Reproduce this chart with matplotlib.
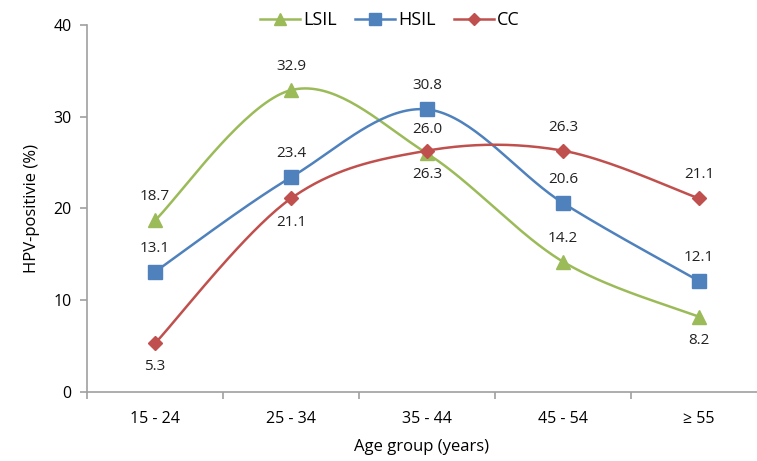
import numpy as np
import matplotlib.pyplot as plt
from matplotlib.ticker import FixedLocator

plt.rcParams['font.family'] = ['Open Sans', 'DejaVu Sans']

age_groups = ["15 - 24", "25 - 34", "35 - 44", "45 - 54", "\u2265 55"]
lsil = [18.7, 32.9, 26.0, 14.2, 8.2]
hsil = [13.1, 23.4, 30.8, 20.6, 12.1]
cc = [5.3, 21.1, 26.3, 26.3, 21.1]

# label above (+1) or below (-1) the point, as in the original
lsil_pos = [1, 1, 1, 1, -1]
hsil_pos = [1, 1, 1, 1, 1]
cc_pos = [-1, -1, -1, 1, 1]


def smooth(xs, ys, n=40):
    # Excel-style smoothed line: Catmull-Rom bezier segments
    pts = np.column_stack([xs, ys]).astype(float)
    ext = np.vstack([pts[0], pts, pts[-1]])
    out = []
    for i in range(len(pts) - 1):
        p0, p1, p2, p3 = ext[i], ext[i + 1], ext[i + 2], ext[i + 3]
        c1 = p1 + (p2 - p0) / 6
        c2 = p2 - (p3 - p1) / 6
        t = np.linspace(0, 1, n)[:, None]
        seg = ((1 - t) ** 3 * p1 + 3 * (1 - t) ** 2 * t * c1
               + 3 * (1 - t) * t ** 2 * c2 + t ** 3 * p2)
        out.append(seg if i == 0 else seg[1:])
    seg = np.vstack(out)
    return seg[:, 0], seg[:, 1]


fig = plt.figure(figsize=(7.57, 4.61), dpi=100)
ax = fig.add_axes([87 / 757, 69 / 461, 670 / 757, 367 / 461])

x = np.arange(len(age_groups))
series = [
    ("LSIL", lsil, lsil_pos, "#9BBB59", "^", 10),
    ("HSIL", hsil, hsil_pos, "#4F81BD", "s", 9.5),
    ("CC", cc, cc_pos, "#C0504D", "D", 7.5),
]

for name, vals, pos, col, mk, ms in series:
    sx, sy = smooth(x, vals)
    ax.plot(sx, sy, color=col, lw=1.8, zorder=2)
    ax.plot(x, vals, linestyle="none", marker=mk, markersize=ms,
            color=col, zorder=3)
    for xi, v, p in zip(x, vals, pos):
        ax.annotate("%.1f" % v, (xi, v), xytext=(0, 17 * p),
                    textcoords="offset points", ha="center", va="center",
                    fontsize=11, color="#222222")

# legend handles
handles = []
for name, vals, pos, col, mk, ms in series:
    h, = ax.plot([], [], color=col, lw=1.8, marker=mk, markersize=ms * 0.85,
                 label=name)
    handles.append(h)
fig.legend(handles=handles, loc="center", bbox_to_anchor=(390 / 757, 1 - 20 / 461),
           ncol=3, frameon=False, fontsize=13, handlelength=2.2,
           handletextpad=0.2, columnspacing=1.0)

ax.set_xlim(-0.5, -0.5 + 670 / 136)
ax.set_ylim(0, 40)
ax.set_yticks([0, 10, 20, 30, 40])
ax.set_xticks(x)
ax.set_xticklabels(age_groups)
ax.xaxis.set_minor_locator(FixedLocator(np.arange(-0.5, 5, 1)))
ax.tick_params(axis="x", which="major", length=0, pad=14, labelsize=11.5)
ax.tick_params(axis="x", which="minor", length=5, color="#A0A0A0", width=1.2)
ax.tick_params(axis="y", length=5, color="#A0A0A0", width=1.2, labelsize=11.5,
               pad=6)

for side in ["top", "right"]:
    ax.spines[side].set_visible(False)
for side in ["left", "bottom"]:
    ax.spines[side].set_color("#A0A0A0")
    ax.spines[side].set_linewidth(1.2)

ax.set_ylabel("HPV-positivie (%)", fontsize=12, labelpad=10)
ax.set_xlabel("Age group (years)", fontsize=12, labelpad=8)

fig.savefig("out.png", dpi=100)
